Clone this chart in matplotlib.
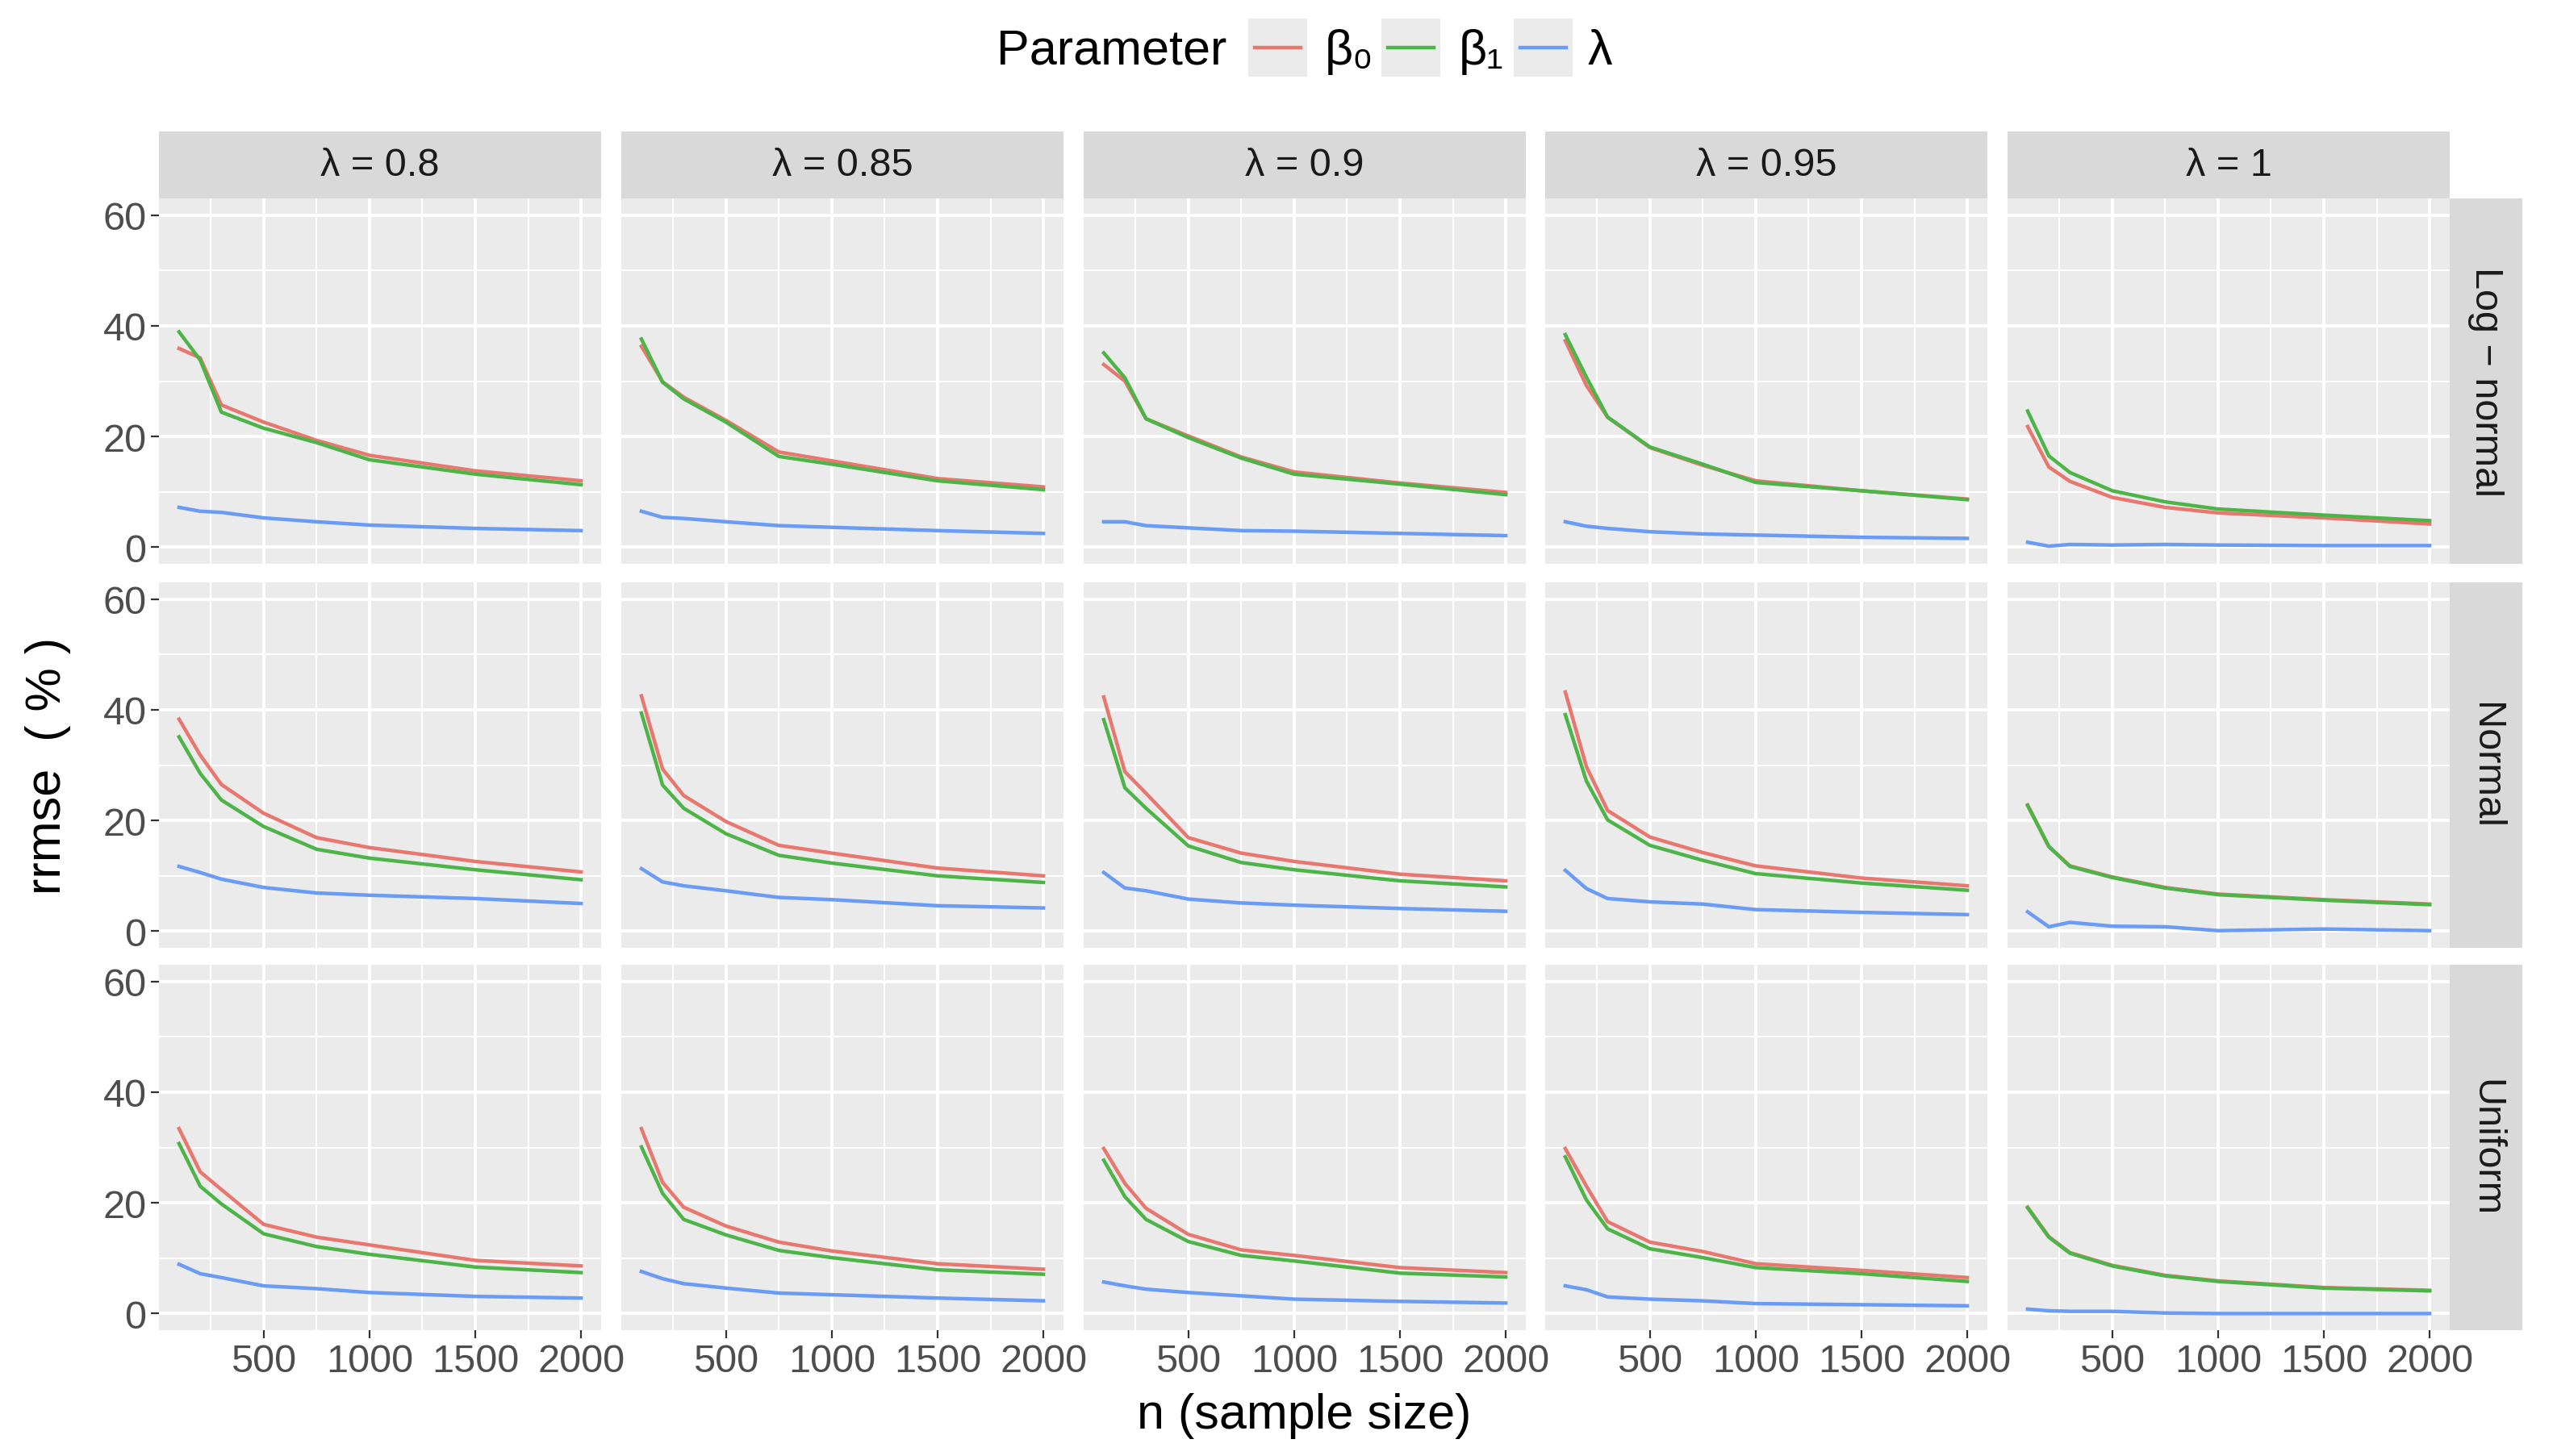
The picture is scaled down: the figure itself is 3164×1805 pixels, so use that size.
import matplotlib
matplotlib.use('Agg')
import matplotlib.pyplot as plt
from matplotlib.lines import Line2D
from matplotlib.patches import Rectangle

plt.rcParams['font.family'] = ['Liberation Sans', 'DejaVu Sans']

# sample sizes and facets
n = [100, 200, 300, 500, 750, 1000, 1500, 2000]
lambdas = ['0.8', '0.85', '0.9', '0.95', '1']
distributions = ['Log \u2212 normal', 'Normal', 'Uniform']
params = ['\u03b2\u2080', '\u03b2\u2081', '\u03bb']
colors = ['#E8776F', '#4DB548', '#6B9CF5']

# rrmse (%) - one row per lambda value
lognormal_beta0 = [
    [35.9, 34.2, 25.7, 22.6, 19.3, 16.6, 13.8, 12.0],
    [36.3, 29.9, 27.1, 22.9, 17.2, 15.6, 12.4, 10.9],
    [33.0, 30.0, 23.2, 20.1, 16.3, 13.6, 11.6, 9.9],
    [37.3, 29.2, 23.5, 18.0, 14.8, 12.0, 10.2, 8.7],
    [21.8, 14.5, 11.9, 9.0, 7.2, 6.2, 5.3, 4.2],
]
lognormal_beta1 = [
    [38.9, 33.8, 24.4, 21.5, 18.9, 15.8, 13.2, 11.3],
    [37.6, 29.8, 26.8, 22.6, 16.4, 15.0, 12.0, 10.4],
    [35.1, 30.6, 23.2, 19.8, 16.1, 13.2, 11.4, 9.5],
    [38.4, 30.7, 23.5, 18.1, 15.0, 11.7, 10.2, 8.6],
    [24.6, 16.5, 13.5, 10.2, 8.2, 6.9, 5.8, 4.8],
]
lognormal_lambda = [
    [7.2, 6.5, 6.3, 5.3, 4.6, 4.0, 3.4, 3.0],
    [6.5, 5.4, 5.2, 4.6, 3.9, 3.6, 3.0, 2.5],
    [4.6, 4.6, 3.9, 3.5, 3.0, 2.9, 2.5, 2.1],
    [4.6, 3.8, 3.4, 2.8, 2.4, 2.2, 1.8, 1.6],
    [0.9, 0.2, 0.5, 0.4, 0.5, 0.4, 0.3, 0.3],
]
normal_beta0 = [
    [38.3, 31.8, 26.5, 21.3, 16.9, 15.1, 12.6, 10.7],
    [42.5, 29.3, 24.5, 19.8, 15.5, 14.1, 11.4, 10.0],
    [42.3, 28.8, 24.9, 16.9, 14.1, 12.6, 10.3, 9.1],
    [43.2, 29.7, 21.8, 17.0, 14.2, 11.8, 9.6, 8.2],
    [22.8, 15.3, 11.8, 9.8, 7.9, 6.7, 5.7, 4.9],
]
normal_beta1 = [
    [35.1, 28.5, 23.7, 18.9, 14.8, 13.2, 11.1, 9.3],
    [39.4, 26.4, 22.2, 17.6, 13.7, 12.3, 10.0, 8.8],
    [38.2, 25.9, 22.2, 15.4, 12.4, 11.1, 9.1, 8.0],
    [39.1, 27.1, 20.1, 15.5, 12.8, 10.4, 8.7, 7.4],
    [22.7, 15.3, 11.7, 9.7, 7.8, 6.6, 5.6, 4.8],
]
normal_lambda = [
    [11.7, 10.6, 9.4, 7.9, 6.9, 6.5, 5.9, 5.0],
    [11.3, 8.9, 8.2, 7.3, 6.1, 5.7, 4.6, 4.2],
    [10.6, 7.8, 7.3, 5.8, 5.1, 4.7, 4.1, 3.6],
    [11.0, 7.7, 5.9, 5.3, 4.9, 3.9, 3.4, 3.0],
    [3.5, 0.8, 1.6, 0.9, 0.8, 0.1, 0.4, 0.1],
]
uniform_beta0 = [
    [33.4, 25.6, 22.4, 16.1, 13.8, 12.4, 9.6, 8.6],
    [33.4, 23.7, 19.2, 15.8, 12.9, 11.3, 9.0, 8.0],
    [29.8, 23.5, 19.0, 14.3, 11.5, 10.5, 8.3, 7.4],
    [29.8, 23.0, 16.6, 12.9, 11.2, 9.0, 7.8, 6.5],
    [19.2, 13.9, 11.0, 8.7, 6.9, 5.9, 4.7, 4.2],
]
uniform_beta1 = [
    [30.7, 23.0, 19.8, 14.4, 12.1, 10.7, 8.4, 7.4],
    [30.1, 21.7, 17.0, 14.2, 11.4, 10.1, 7.9, 7.1],
    [27.7, 21.1, 17.0, 13.0, 10.5, 9.5, 7.3, 6.6],
    [28.3, 20.5, 15.3, 11.7, 10.1, 8.3, 7.2, 5.8],
    [19.1, 13.8, 10.9, 8.6, 6.8, 5.8, 4.6, 4.1],
]
uniform_lambda = [
    [8.9, 7.2, 6.5, 5.0, 4.5, 3.8, 3.1, 2.8],
    [7.6, 6.3, 5.4, 4.6, 3.7, 3.4, 2.8, 2.3],
    [5.7, 5.0, 4.4, 3.8, 3.2, 2.6, 2.2, 1.9],
    [5.0, 4.3, 3.0, 2.6, 2.3, 1.8, 1.6, 1.4],
    [0.8, 0.5, 0.4, 0.4, 0.1, 0.0, 0.0, 0.0],
]

series = [
    [lognormal_beta0, lognormal_beta1, lognormal_lambda],
    [normal_beta0, normal_beta1, normal_lambda],
    [uniform_beta0, uniform_beta1, uniform_lambda],
]

W, H = 3164, 1806
fig = plt.figure(figsize=(W / 200, H / 200), dpi=200)


def rect(x, y, w, h):
    # pixel box (top-left origin) -> figure fraction
    return [x / W, 1 - (y + h) / H, w / W, h / H]


col_left = [197, 770, 1343, 1915, 2488]
row_top = [247, 723, 1197]
pw, ph = 548, 453

for r, dist in enumerate(distributions):
    for c, lam in enumerate(lambdas):
        ax = fig.add_axes(rect(col_left[c], row_top[r], pw, ph))
        ax.set_facecolor('#EBEBEB')
        for vals, color in zip(series[r], colors):
            ax.plot(n, vals[c], color=color, lw=1.6, zorder=3)
        ax.set_xlim(5, 2095)
        ax.set_ylim(-3, 63)
        ax.set_xticks([500, 1000, 1500, 2000])
        ax.set_xticks([250, 750, 1250, 1750], minor=True)
        ax.set_yticks([0, 20, 40, 60])
        ax.set_yticks([10, 30, 50], minor=True)
        ax.grid(which='major', color='white', lw=1.4)
        ax.grid(which='minor', color='white', lw=0.7)
        ax.set_axisbelow(True)
        for s in ax.spines.values():
            s.set_visible(False)
        ax.tick_params(which='minor', length=0)
        ax.tick_params(which='major', length=3.6, width=0.8, color='#333333',
                       labelsize=17.5, labelcolor='#4D4D4D', pad=2)
        if r < 2:
            ax.tick_params(axis='x', bottom=False, labelbottom=False)
        if c > 0:
            ax.tick_params(axis='y', left=False, labelleft=False)

        if r == 0:
            st = fig.add_axes(rect(col_left[c], 164, pw, 83))
            st.set_facecolor('#D9D9D9')
            st.set_xticks([])
            st.set_yticks([])
            for s in st.spines.values():
                s.set_visible(False)
            st.text(0.5, 0.5, '\u03bb = ' + lam, ha='center', va='center',
                    fontsize=17.5, color='#1A1A1A', transform=st.transAxes)
        if c == 4:
            st = fig.add_axes(rect(3036, row_top[r], 90, ph))
            st.set_facecolor('#D9D9D9')
            st.set_xticks([])
            st.set_yticks([])
            for s in st.spines.values():
                s.set_visible(False)
            st.text(0.5, 0.5, dist, ha='center', va='center', rotation=-90,
                    fontsize=17.5, color='#1A1A1A', transform=st.transAxes)

# axis titles
fig.text(1616 / W, 1 - 1756 / H, 'n (sample size)', ha='center', va='center', fontsize=22)
fig.text(60 / W, 1 - 950 / H, 'rrmse  ( % )', ha='center', va='center',
         rotation=90, fontsize=22)

# legend on top
fig.text(1235 / W, 1 - 80 / H, 'Parameter', ha='left', va='baseline', fontsize=22)
key_x = [1547, 1712, 1876]
label_x = [1642, 1808, 1968]
for kx, lx, lab, color in zip(key_x, label_x, params, colors):
    fig.add_artist(Rectangle((kx / W, 1 - 96 / H), 73 / W, 72 / H,
                             transform=fig.transFigure, facecolor='#EBEBEB',
                             edgecolor='none'))
    fig.add_artist(Line2D([(kx + 8) / W, (kx + 65) / W], [1 - 60 / H, 1 - 60 / H],
                          transform=fig.transFigure, color=color, lw=1.6))
    fig.text(lx / W, 1 - 80 / H, lab, ha='left', va='baseline', fontsize=22)

fig.savefig('out.png', dpi=200)
